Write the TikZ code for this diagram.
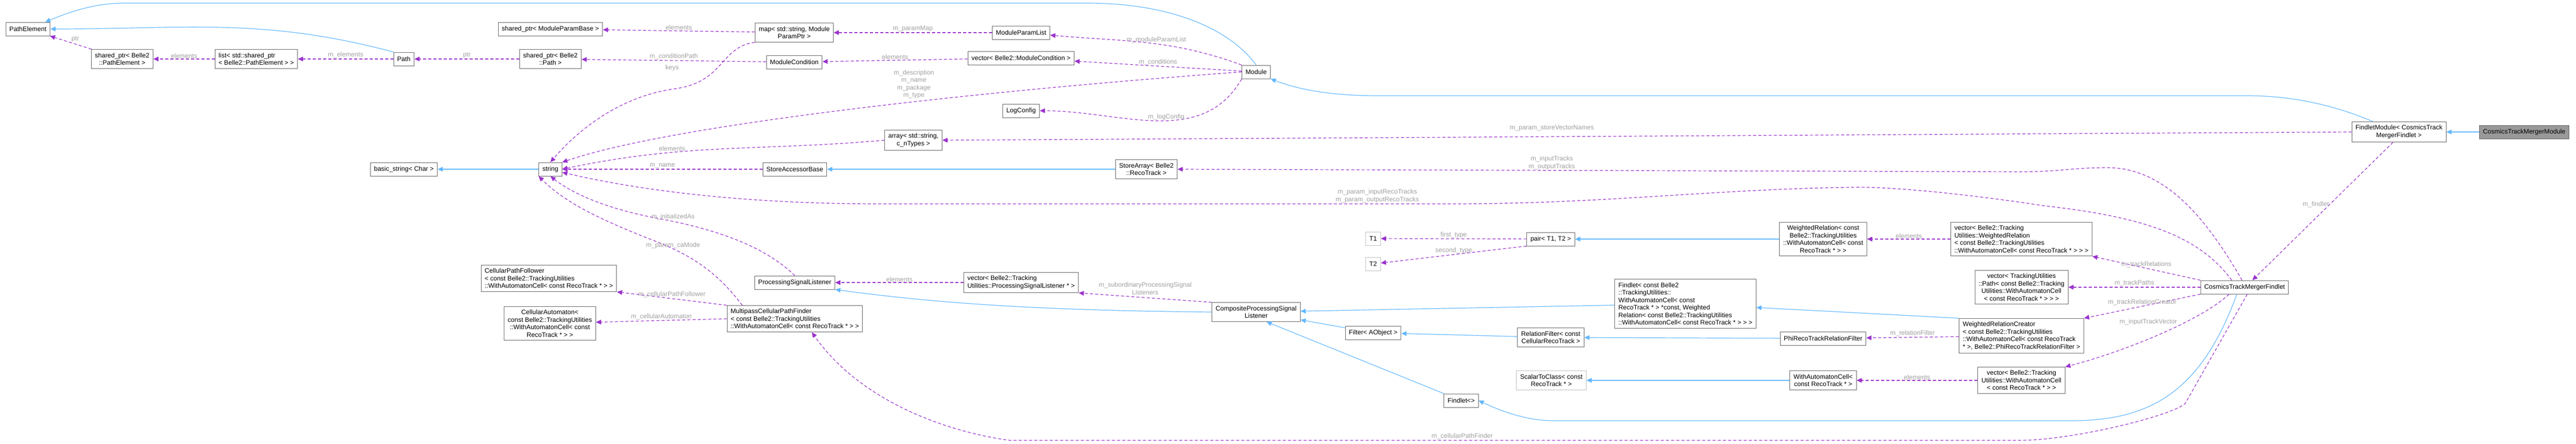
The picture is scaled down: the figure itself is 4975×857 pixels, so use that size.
\documentclass[tikz,border=0pt]{standalone}
\usepackage{fontspec}
\setmainfont{Liberation Sans}
\usetikzlibrary{arrows.meta}
\definecolor{boxgray}{HTML}{666666}
\definecolor{softgray}{HTML}{BFBFBF}
\definecolor{inhblue}{HTML}{63B8FF}
\definecolor{usepurple}{HTML}{9A32CD}
\definecolor{lblgray}{HTML}{A0A0A0}
\definecolor{mainfill}{HTML}{999999}
\newcommand{\dfont}{\fontsize{12.5}{14.5}\selectfont}
\tikzset{
  box/.style={draw=boxgray, line width=1pt, fill=white, align=center, font=\dfont,
    inner xsep=7pt, inner ysep=6.5pt, minimum height=26pt},
  leftbox/.style={box, align=left},
  softbox/.style={box, draw=softgray},
  inh/.style={draw=inhblue, line width=1.2pt, -{Triangle[length=10pt,width=9pt]}},
  use/.style={draw=usepurple, line width=1.2pt, dash pattern=on 6pt off 4pt,
    -{Triangle[length=10pt,width=9pt]}},
  lbl/.style={text=lblgray, font=\dfont, align=center, inner sep=1pt}
}
\begin{document}
\begin{tikzpicture}[x=1pt, y=-1pt]
\useasboundingbox (0,0) rectangle (4975,857);
% Classes
\node [box] (pe) at (54,56) {PathElement};
\node [box] (sppe) at (236,114) {shared\_ptr< Belle2\\::PathElement >};
\node [leftbox] (lst) at (495,114) {list< std::shared\_ptr\\< Belle2::PathElement > >};
\node [box] (path) at (780,114) {Path};
\node [box] (bstr) at (780,327) {basic\_string< Char >};
\node [box] (spmpb) at (1063,56) {shared\_ptr< ModuleParamBase >};
\node [box] (sppath) at (1063,114) {shared\_ptr< Belle2\\::Path >};
\node [box] (str) at (1063,327) {string};
\node [box] (pmap) at (1534,63) {map< std::string, Module\\ParamPtr >};
\node [box] (mcond) at (1534,120) {ModuleCondition};
\node [box] (sab) at (1535,327) {StoreAccessorBase};
\node [box] (psl) at (1535,546) {ProcessingSignalListener};
\node [leftbox] (mpcpf) at (1535,616) {MultipassCellularPathFinder\\< const Belle2::TrackingUtilities\\::WithAutomatonCell< const RecoTrack * > >};
\node [leftbox] (cpf) at (1060,538) {CellularPathFollower\\< const Belle2::TrackingUtilities\\::WithAutomatonCell< const RecoTrack * > >};
\node [box] (ca) at (1062,625) {CellularAutomaton<\\ const Belle2::TrackingUtilities\\::WithAutomatonCell< const\\RecoTrack * > >};
\node [box] (arr) at (1764,271) {array< std::string,\\c\_nTypes >};
\node [box] (mpl) at (1972,63) {ModuleParamList};
\node [box] (vmc) at (1972,112) {vector< Belle2::ModuleCondition >};
\node [box] (logc) at (1972,214) {LogConfig};
\node [leftbox] (vpsl) at (1972,546) {vector< Belle2::Tracking\\Utilities::ProcessingSignalListener * >};
\node [box] (starr) at (2214,327) {StoreArray< Belle2\\::RecoTrack >};
\node [box] (mod) at (2426,139) {Module};
\node [box] (cpsl) at (2426,603) {CompositeProcessingSignal\\Listener};
\node [softbox] (tone) at (2652,461) {T1};
\node [softbox] (ttwo) at (2652,510) {T2};
\node [box] (filt) at (2652,643) {Filter< AObject >};
\node [box] (fdl) at (2822,774) {Findlet<>};
\node [box] (pair) at (2995,462) {pair< T1, T2 >};
\node [box] (rfilt) at (2995,652) {RelationFilter< const\\CellularRecoTrack >};
\node [softbox] (stc) at (2996,735) {ScalarToClass< const\\RecoTrack * >};
\node [leftbox] (bigf) at (3255,587) {Findlet< const Belle2\\::TrackingUtilities::\\WithAutomatonCell< const\\ RecoTrack * > *const, Weighted\\Relation< const Belle2::TrackingUtilities\\::WithAutomatonCell< const RecoTrack * > > >};
\node [box] (wrel) at (3521,462) {WeightedRelation< const\\Belle2::TrackingUtilities\\::WithAutomatonCell< const\\RecoTrack * > >};
\node [box] (phif) at (3521,654) {PhiRecoTrackRelationFilter};
\node [box] (wac) at (3521,735) {WithAutomatonCell<\\const RecoTrack * >};
\node [leftbox] (vwr) at (3904,462) {vector< Belle2::Tracking\\Utilities::WeightedRelation\\< const Belle2::TrackingUtilities\\::WithAutomatonCell< const RecoTrack * > > >};
\node [box] (vpath) at (3904,555) {vector< TrackingUtilities\\::Path< const Belle2::Tracking\\Utilities::WithAutomatonCell\\< const RecoTrack * > > >};
\node [leftbox] (wrc) at (3904,649) {WeightedRelationCreator\\< const Belle2::TrackingUtilities\\::WithAutomatonCell< const RecoTrack\\ * >, Belle2::PhiRecoTrackRelationFilter >};
\node [box] (vwac) at (3904,735) {vector< Belle2::Tracking\\Utilities::WithAutomatonCell\\< const RecoTrack * > >};
\node [box] (ctmf) at (4335,555) {CosmicsTrackMergerFindlet};
\node [box] (fmod) at (4633,255) {FindletModule< CosmicsTrack\\MergerFindlet >};
\node [box, fill=mainfill] (ctmm) at (4875,255) {CosmicsTrackMergerModule};
% Inheritance
\draw [inh] (path.north west) to [out=165,in=0] (pe.east);
\draw [inh] (mod.north) .. controls (2370,50) and (2250,6) .. (2100,6) -- (240,6) .. controls (180,6) and (130,25) .. ([xshift=-10pt]pe.north east);
\draw [inh] (str) -- (bstr);
\draw [inh] (starr) -- (sab);
\draw [inh] ([xshift=-50pt]fmod.north) .. controls (4500,200) and (4420,185) .. (4340,185) -- (2660,185) .. controls (2560,185) and (2500,170) .. (mod.south east);
\draw [inh] (ctmm) -- (fmod);
\draw [inh] (cpsl.west) .. controls (2000,600) and (1800,585) .. (psl.south east);
\draw [inh] (bigf) -- (cpsl);
\draw [inh] (filt) -- (cpsl);
\draw [inh] (fdl.north west) -- ([xshift=20pt]cpsl.south);
\draw [inh] (rfilt) -- (filt);
\draw [inh] (phif) -- (rfilt);
\draw [inh] (wac) -- (stc);
\draw [inh] (wrel) -- (pair);
\draw [inh] (wrc.north west) -- (bigf);
\draw [inh] ([xshift=-15pt]ctmf.south) .. controls (4250,760) and (4150,813) .. (4000,813) -- (3000,813) .. controls (2950,813) and (2900,795) .. (fdl.east);
% Usage
\draw [use] (sppe) -- node [lbl,above right] {ptr} (pe);
\draw [use] (lst) -- node [lbl,above] {elements} (sppe);
\draw [use] (path) -- node [lbl,above] {m\_elements} (lst);
\draw [use] (sppath) -- node [lbl,above] {ptr} (path);
\draw [use] (mcond) -- node [lbl,above] {m\_conditionPath} (sppath);
\draw [use] (pmap) -- node [lbl,above] {elements} (spmpb);
\draw [use] (mpl) -- node [lbl,above] {m\_paramMap} (pmap);
\draw [use] (vmc) -- node [lbl,above] {elements} (mcond);
\draw [use] (mod.north west) to [out=160,in=-5] node [lbl,above,pos=.45] {m\_moduleParamList} (mpl);
\draw [use] (mod) -- node [lbl,above] {m\_conditions} (vmc);
\draw [use] (mod.south west) to [out=240,in=0] node [lbl,above,pos=.45] {m\_logConfig} (logc);
\draw [use] (mod.west) .. controls (1900,175) and (1300,240) .. (str.north east);
\node [lbl] (lmod) at (1765,163) {m\_description\\m\_name\\m\_package\\m\_type};
\draw [use] (pmap.south west) .. controls (1390,90) and (1400,160) .. (1300,172) .. controls (1180,190) and (1100,270) .. (str.north);
\node [lbl] (lkeys) at (1298,131) {keys};
\draw [use] (arr.west) to [out=185,in=12] (str.east);
\node [lbl] (larr) at (1298,287) {elements};
\draw [use] (sab) -- node [lbl,above] {m\_name} (str);
\draw [use] (psl.north) .. controls (1470,470) and (1370,440) .. (1260,420) .. controls (1160,400) and (1100,370) .. (str.south);
\node [lbl] (linit) at (1300,419) {m\_initializedAs};
\draw [use] ([xshift=30pt]mpcpf.north west) .. controls (1380,520) and (1330,490) .. (1250,460) .. controls (1150,420) and (1090,390) .. (str.south west);
\node [lbl] (lca) at (1300,474) {m\_param\_caMode};
\draw [use] (mpcpf.north west) -- node [lbl,above] {m\_cellularPathFollower} (cpf.south east);
\draw [use] (mpcpf.west) -- node [lbl,above] {m\_cellularAutomaton} (ca);
\draw [use] (vpsl) -- node [lbl,above] {elements} (psl);
\draw [use] (cpsl.north west) -- node [lbl,above=4pt] {m\_subordinaryProcessingSignal\\Listeners} (vpsl.south east);
\draw [use] (pair.south west) -- node [lbl,above] {second\_type} (ttwo);
\draw [use] (pair) -- node [lbl,above] {first\_type} (tone);
\draw [use] (vwr) -- node [lbl,above] {elements} (wrel);
\draw [use] (wrc) -- node [lbl,above] {m\_relationFilter} (phif);
\draw [use] (vwac) -- node [lbl,above] {elements} (wac);
\draw [use] (ctmf.north west) -- node [lbl,above] {m\_trackRelations} (vwr.south east);
\draw [use] (ctmf) -- node [lbl,above] {m\_trackPaths} (vpath);
\draw [use] (ctmf.south west) -- node [lbl,above] {m\_trackRelationCreator} (wrc.north east);
\draw [use] ([xshift=-30pt]ctmf.south) .. controls (4250,620) and (4100,680) .. (vwac.north east);
\node [lbl] (linput) at (4149,622) {m\_inputTrackVector};
\draw [use] (fmod.south west) ++(80,0) -- node [lbl,left,pos=.45] {m\_findlet} ([xshift=15pt]ctmf.north);
\draw [use] (fmod.west) -- (arr.east);
\node [lbl] (lstore) at (2997,247) {m\_param\_storeVectorNames};
\draw [use] ([xshift=-5pt]ctmf.north) .. controls (4260,420) and (4180,324) .. (4070,324) .. controls (4000,324) and (3980,332) .. (3900,332) -- (starr.east);
\node [lbl] (ltracks) at (2997,315) {m\_inputTracks\\m\_outputTracks};
\draw [use] ([xshift=-25pt]ctmf.north) .. controls (4250,460) and (4150,420) .. (3950,398) .. controls (3800,375) and (3650,360) .. (3574,362) .. controls (3300,366) and (3100,394) .. (2800,394) -- (1700,394) .. controls (1400,394) and (1200,360) .. ([yshift=-6pt]str.east);
\node [lbl] (lreco) at (2660,379) {m\_param\_inputRecoTracks\\m\_param\_outputRecoTracks};
\draw [use] ([xshift=5pt]ctmf.south) -- (4220,780) .. controls (4190,805) and (4000,851) .. (3900,851) -- (1950,851) .. controls (1800,830) and (1650,760) .. ([xshift=33pt]mpcpf.south);
\node [lbl] (lpath) at (2824,843) {m\_cellularPathFinder};
\end{tikzpicture}
\end{document}
